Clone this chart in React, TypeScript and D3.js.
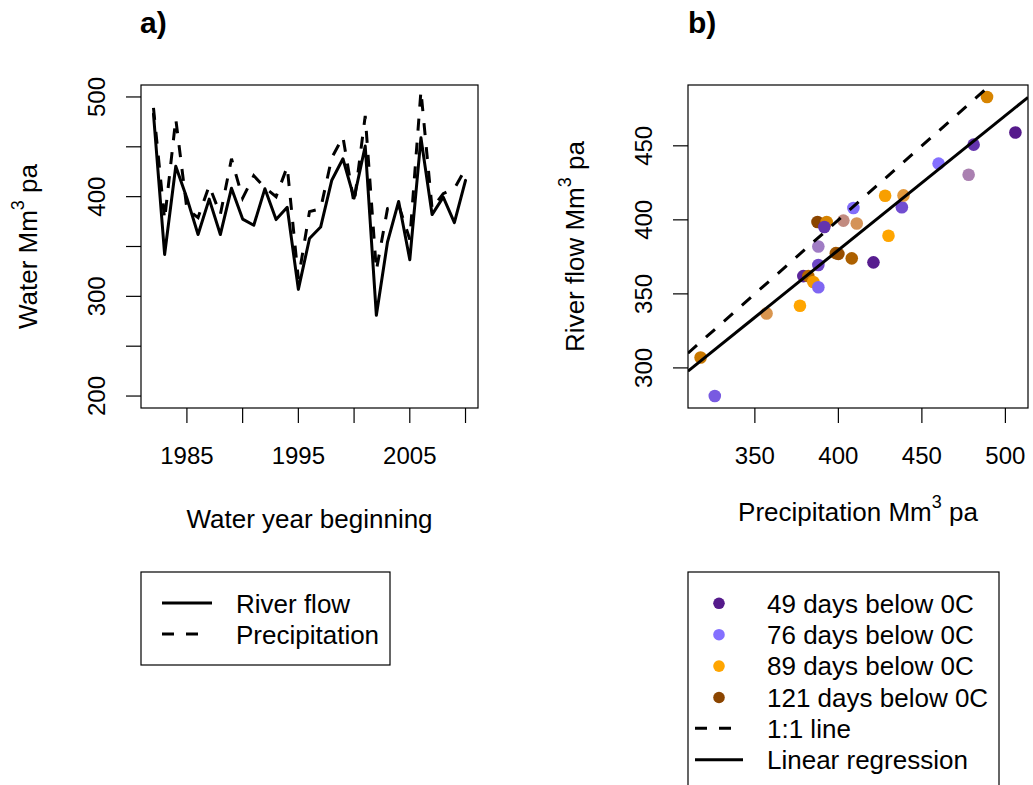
import React from 'react';
import * as d3 from 'd3';

// ---- data ----
const years = [1982, 1983, 1984, 1985, 1986, 1987, 1988, 1989, 1990, 1991, 1992, 1993, 1994, 1995, 1996, 1997, 1998, 1999, 2000, 2001, 2002, 2003, 2004, 2005, 2006, 2007, 2008, 2009, 2010];
const riverFlow = [483, 342, 430.5, 398.5, 362, 397.5, 362, 408.5, 377.5, 371.3, 408, 377, 389.3, 307, 358, 369.5, 416.5, 438, 398.5, 450.8, 281, 354.5, 395.2, 336.8, 459, 382, 399.5, 374, 416.3];
const precipitation = [489, 377, 478, 387.5, 379, 411, 382, 438, 398.5, 421, 409, 400, 430, 317.5, 385, 388, 439, 460, 393, 481, 326, 388, 391.6, 357, 506, 388, 403, 408, 428];
const daysBelow0 = [100, 89, 80, 121, 53, 84.5, 110, 65, 115, 50, 75, 118, 89, 104, 93, 63, 86, 76, 100, 57, 69, 73, 57, 85, 49, 79, 82.5, 112, 91];

const dayLevels = [49, 76, 89, 121];
const dayColors = ['#551A8B', '#8470FF', '#FFA500', '#8B4500'];
const dayLabels = ['49 days below 0C', '76 days below 0C', '89 days below 0C', '121 days below 0C'];

const xTicksA = [1985, 1990, 1995, 2000, 2005, 2010];
const xTickLabelsA = [1985, 1995, 2005];
const yTicksA = [200, 250, 300, 350, 400, 450, 500];
const yTickLabelsA = [200, 300, 400, 500];
const xTicksB = [350, 400, 450, 500];
const yTicksB = [300, 350, 400, 450];

const FONT = "'Liberation Sans', Arial, Helvetica, sans-serif";

const pad = (lo: number, hi: number): [number, number] => {
  const r = hi - lo;
  return [lo - 0.04 * r, hi + 0.04 * r];
};

export default function App() {
  const A = { l: 141, r: 478, t: 85, b: 408 };
  const B = { l: 688, r: 1028, t: 85, b: 408 };
  const tick = 15;
  const LAB = 26;

  const xA = d3.scaleLinear().domain(pad(d3.min(years)!, d3.max(years)!)).range([A.l, A.r]);
  const yA = d3.scaleLinear().domain(pad(200, 500)).range([A.b, A.t]);
  const lineA = d3.line<number>().x((_, i) => xA(years[i])).y((d) => yA(d));

  const [px0, px1] = d3.extent(precipitation) as [number, number];
  const [fy0, fy1] = d3.extent(riverFlow) as [number, number];
  const xB = d3.scaleLinear().domain(pad(px0, px1)).range([B.l, B.r]);
  const yB = d3.scaleLinear().domain(pad(fy0, fy1)).range([B.b, B.t]);
  const color = d3.scaleLinear<string>().domain(dayLevels).range(dayColors).interpolate(d3.interpolateRgb);

  // linear regression flow ~ precipitation
  const mx = d3.mean(precipitation)!;
  const my = d3.mean(riverFlow)!;
  let sxy = 0, sxx = 0;
  precipitation.forEach((p, i) => { sxy += (p - mx) * (riverFlow[i] - my); sxx += (p - mx) * (p - mx); });
  const slope = sxy / sxx;
  const icpt = my - slope * mx;
  const [dx0, dx1] = xB.domain();

  const sup = (main: string, tail: string) => (
    <>
      {main}<tspan dy={-13} fontSize={18}>3</tspan><tspan dy={13}>{tail}</tspan>
    </>
  );

  return (
    <svg width={1033} height={785} style={{ position: 'fixed', left: 0, top: 0, background: '#fff' }} fontFamily={FONT}>
      <rect x={0} y={0} width={1033} height={785} fill="#fff" />
      <defs>
        <clipPath id="clipB"><rect x={B.l} y={B.t} width={B.r - B.l} height={B.b - B.t} /></clipPath>
        <clipPath id="clipA"><rect x={A.l} y={A.t} width={A.r - A.l} height={A.b - A.t} /></clipPath>
      </defs>

      {/* ---------- Panel a ---------- */}
      <text x={A.l - 1} y={33} fontSize={30} fontWeight="bold">a)</text>
      <g clipPath="url(#clipA)">
        <path d={lineA(precipitation) || ''} fill="none" stroke="#000" strokeWidth={3} strokeDasharray="12 12" />
        <path d={lineA(riverFlow) || ''} fill="none" stroke="#000" strokeWidth={3} strokeLinejoin="round" strokeLinecap="round" />
      </g>
      <rect x={A.l} y={A.t} width={A.r - A.l} height={A.b - A.t} fill="none" stroke="#000" strokeWidth={1.2} />
      {xTicksA.map((t) => (
        <g key={'xa' + t}>
          <line x1={xA(t)} x2={xA(t)} y1={A.b} y2={A.b + tick} stroke="#000" strokeWidth={1.2} />
          {xTickLabelsA.includes(t) && (
            <text x={xA(t)} y={464} fontSize={24} textAnchor="middle">{t}</text>
          )}
        </g>
      ))}
      {yTicksA.map((t) => (
        <g key={'ya' + t}>
          <line x1={A.l - tick} x2={A.l} y1={yA(t)} y2={yA(t)} stroke="#000" strokeWidth={1.2} />
          {yTickLabelsA.includes(t) && (
            <text transform={`translate(${A.l - 36},${yA(t)}) rotate(-90)`} fontSize={24} textAnchor="middle">{t}</text>
          )}
        </g>
      ))}
      <text x={(A.l + A.r) / 2} y={528} fontSize={LAB} textAnchor="middle">Water year beginning</text>
      <text transform={`translate(${A.l - 104},${(A.t + A.b) / 2}) rotate(-90)`} fontSize={LAB} textAnchor="middle">
        {sup('Water Mm', ' pa')}
      </text>

      {/* legend a */}
      <rect x={141} y={572} width={249} height={93} fill="none" stroke="#000" strokeWidth={1.2} />
      <line x1={162} x2={212} y1={603} y2={603} stroke="#000" strokeWidth={3} />
      <line x1={162} x2={210} y1={634} y2={634} stroke="#000" strokeWidth={3} strokeDasharray="12 12" />
      <text x={236} y={612.5} fontSize={LAB}>River flow</text>
      <text x={236} y={643.5} fontSize={LAB}>Precipitation</text>

      {/* ---------- Panel b ---------- */}
      <text x={B.l} y={33} fontSize={30} fontWeight="bold">b)</text>
      <g>
        {precipitation.map((p, i) => (
          <circle key={'pt' + i} cx={xB(p)} cy={yB(riverFlow[i])} r={6.3} fill={color(daysBelow0[i])} />
        ))}
      </g>
      <g clipPath="url(#clipB)">
        <line x1={xB(dx0)} y1={yB(dx0)} x2={xB(dx1)} y2={yB(dx1)} stroke="#000" strokeWidth={3} strokeDasharray="12 12" />
        <line x1={xB(dx0)} y1={yB(icpt + slope * dx0)} x2={xB(dx1)} y2={yB(icpt + slope * dx1)} stroke="#000" strokeWidth={3} />
      </g>
      <rect x={B.l} y={B.t} width={B.r - B.l} height={B.b - B.t} fill="none" stroke="#000" strokeWidth={1.2} />
      {xTicksB.map((t) => (
        <g key={'xb' + t}>
          <line x1={xB(t)} x2={xB(t)} y1={B.b} y2={B.b + tick} stroke="#000" strokeWidth={1.2} />
          <text x={xB(t)} y={464} fontSize={24} textAnchor="middle">{t}</text>
        </g>
      ))}
      {yTicksB.map((t) => (
        <g key={'yb' + t}>
          <line x1={B.l - tick} x2={B.l} y1={yB(t)} y2={yB(t)} stroke="#000" strokeWidth={1.2} />
          <text transform={`translate(${B.l - 36},${yB(t)}) rotate(-90)`} fontSize={24} textAnchor="middle">{t}</text>
        </g>
      ))}
      <text x={(B.l + B.r) / 2} y={521} fontSize={LAB} textAnchor="middle">{sup('Precipitation Mm', ' pa')}</text>
      <text transform={`translate(${B.l - 104},${(B.t + B.b) / 2}) rotate(-90)`} fontSize={LAB} textAnchor="middle">
        {sup('River flow Mm', ' pa')}
      </text>

      {/* legend b */}
      <rect x={688} y={572} width={311} height={230} fill="none" stroke="#000" strokeWidth={1.2} />
      {dayLevels.map((d, i) => (
        <g key={'lg' + d}>
          <circle cx={719} cy={603.3 + i * 31.4} r={5.8} fill={color(d)} />
          <text x={767} y={603.3 + i * 31.4 + 9.3} fontSize={LAB}>{dayLabels[i]}</text>
        </g>
      ))}
      <line x1={695} x2={743} y1={728.3} y2={728.3} stroke="#000" strokeWidth={3} strokeDasharray="12 12" />
      <text x={767} y={728.3 + 9.3} fontSize={LAB}>1:1 line</text>
      <line x1={695} x2={743} y1={759.7} y2={759.7} stroke="#000" strokeWidth={3} />
      <text x={767} y={759.7 + 9.3} fontSize={LAB}>Linear regression</text>
    </svg>
  );
}
